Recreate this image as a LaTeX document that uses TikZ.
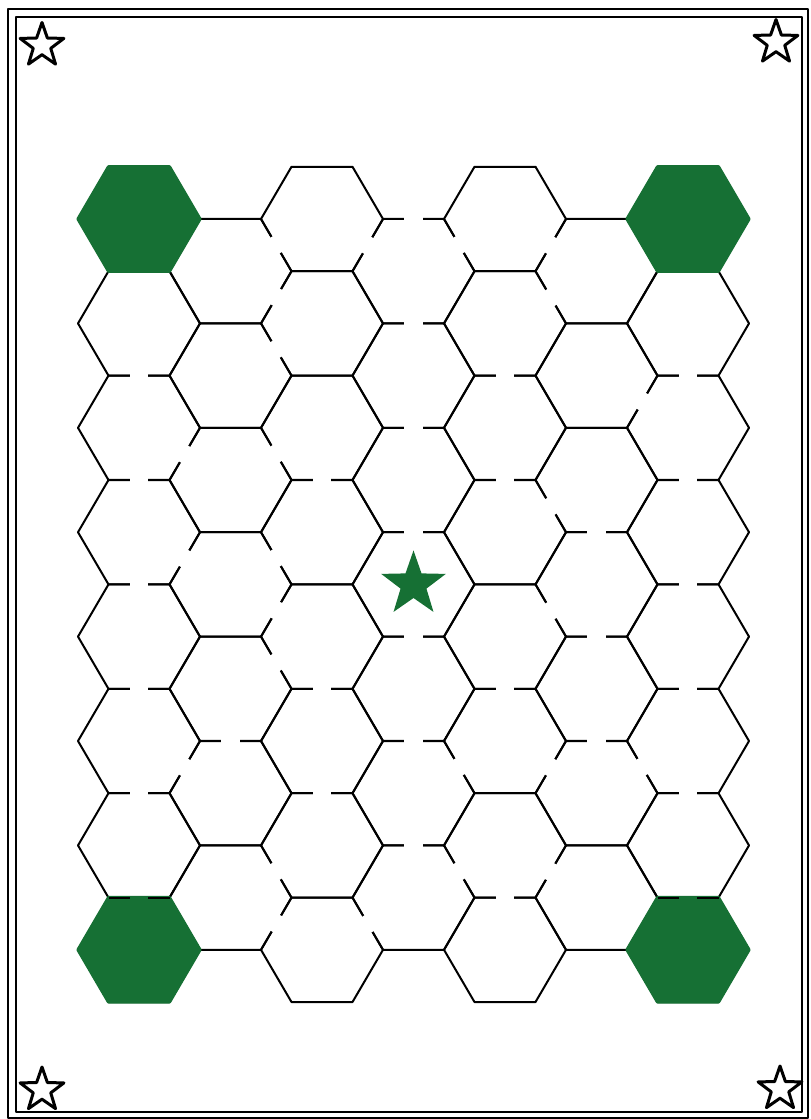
\documentclass[tikz,border=0pt]{standalone}
\usepackage{tikz}
\usetikzlibrary{calc, shapes.geometric, positioning}
\definecolor{boardgreen}{RGB}{22,112,52}

% corner of hex (column, row) at a given angle
\newcommand{\hexpt}[3]{($(h#1-#2)+({61*cos(#3)},{-60.3*sin(#3)})$)}

\begin{document}
\begin{tikzpicture}[x=0.5pt, y=-0.5pt, line join=round,
    wall/.style={line width=1pt},
    wallgap/.style={white, line width=2.2pt, dash pattern=on 0pt off 10.7pt on 9.1pt off 40pt},
    greenhex/.style={fill=boardgreen, draw=boardgreen, line width=1.6pt},
    cornerstar/.style={star, star points=5, star point ratio=2.5, draw, line width=1.5pt, inner sep=0pt, minimum size=23pt},
    goalstar/.style={star, star points=5, star point ratio=2.5, fill=boardgreen, inner sep=0pt, minimum size=34pt}]
    \useasboundingbox (0,0) rectangle (810,1119);

    % 1. Double frame
    \draw[wall] (8,9) rectangle (808,1118);
    \draw[wall] (16,17) rectangle (802,1112);

    % 2. Hex centres: 7 columns, even ones with 8 hexes, odd ones with 7
    \foreach \c in {0,...,6} {
        \pgfmathtruncatemacro\odd{mod(\c,2)}
        \pgfmathtruncatemacro\last{7-\odd}
        \foreach \r in {0,...,\last}
            \coordinate (h\c-\r) at ({139+91.5*\c},{219+52.2*\odd+104.4*\r});
    }

    % 3. All hex outlines
    \foreach \c in {0,...,6} {
        \pgfmathtruncatemacro\last{7-mod(\c,2)}
        \foreach \r in {0,...,\last}
            \draw[wall] \hexpt{\c}{\r}{0} -- \hexpt{\c}{\r}{60} -- \hexpt{\c}{\r}{120}
                -- \hexpt{\c}{\r}{180} -- \hexpt{\c}{\r}{240} -- \hexpt{\c}{\r}{300} -- cycle;
    }

    % 4. Open walls (gap in the middle of the side)
    % top/bottom sides
    \foreach \c/\r/\a/\b in {3/0/60/120,
        0/1/240/300, 0/2/240/300, 0/3/240/300, 0/4/240/300, 0/5/240/300,
        1/4/240/300,
        2/2/240/300, 2/4/240/300, 2/5/240/300,
        3/0/240/300, 3/1/240/300, 3/2/240/300, 3/3/240/300, 3/4/240/300, 3/5/240/300,
        4/1/240/300, 4/2/240/300, 4/4/240/300, 4/6/240/300,
        5/2/240/300, 5/3/240/300, 5/4/240/300,
        6/1/240/300, 6/2/240/300, 6/3/240/300, 6/4/240/300, 6/5/240/300}
        \draw[wallgap] \hexpt{\c}{\r}{\a} -- \hexpt{\c}{\r}{\b};
    % slanted sides
    \foreach \c/\r/\a/\b in {1/2/120/180, 1/3/120/180, 1/5/120/180,
        1/0/0/60, 1/0/300/0, 1/1/0/60, 1/2/0/60, 1/3/0/60, 1/3/300/0,
        1/4/0/60, 1/6/0/60, 1/6/300/0,
        3/0/120/180, 3/6/180/240, 3/0/0/60, 3/5/0/60, 3/6/0/60,
        5/0/120/180, 5/0/180/240, 5/2/180/240, 5/3/180/240, 5/5/120/180, 5/6/120/180,
        5/1/300/0, 5/5/0/60}
        \draw[wallgap] \hexpt{\c}{\r}{\a} -- \hexpt{\c}{\r}{\b};

    % 5. Green corner hexes
    \foreach \c/\r in {0/0, 6/0, 0/7, 6/7}
        \draw[greenhex] \hexpt{\c}{\r}{0} -- \hexpt{\c}{\r}{60} -- \hexpt{\c}{\r}{120}
            -- \hexpt{\c}{\r}{180} -- \hexpt{\c}{\r}{240} -- \hexpt{\c}{\r}{300} -- cycle;
    % open top side of the lower green hexes
    \foreach \c in {0,6}
        \draw[wall, dash pattern=on 10.7pt off 9.1pt on 10.7pt off 20pt]
            \hexpt{\c}{7}{120} -- \hexpt{\c}{7}{60};

    % 6. Stars
    \node[cornerstar] (starNW) at (42,45.5) {};
    \node[cornerstar] (starNE) at (776,42.5) {};
    \node[cornerstar] (starSW) at (42,1090) {};
    \node[cornerstar] (starSE) at (780,1089) {};
    \node[goalstar] (goal) at (h3-3) {};

\end{tikzpicture}
\end{document}
